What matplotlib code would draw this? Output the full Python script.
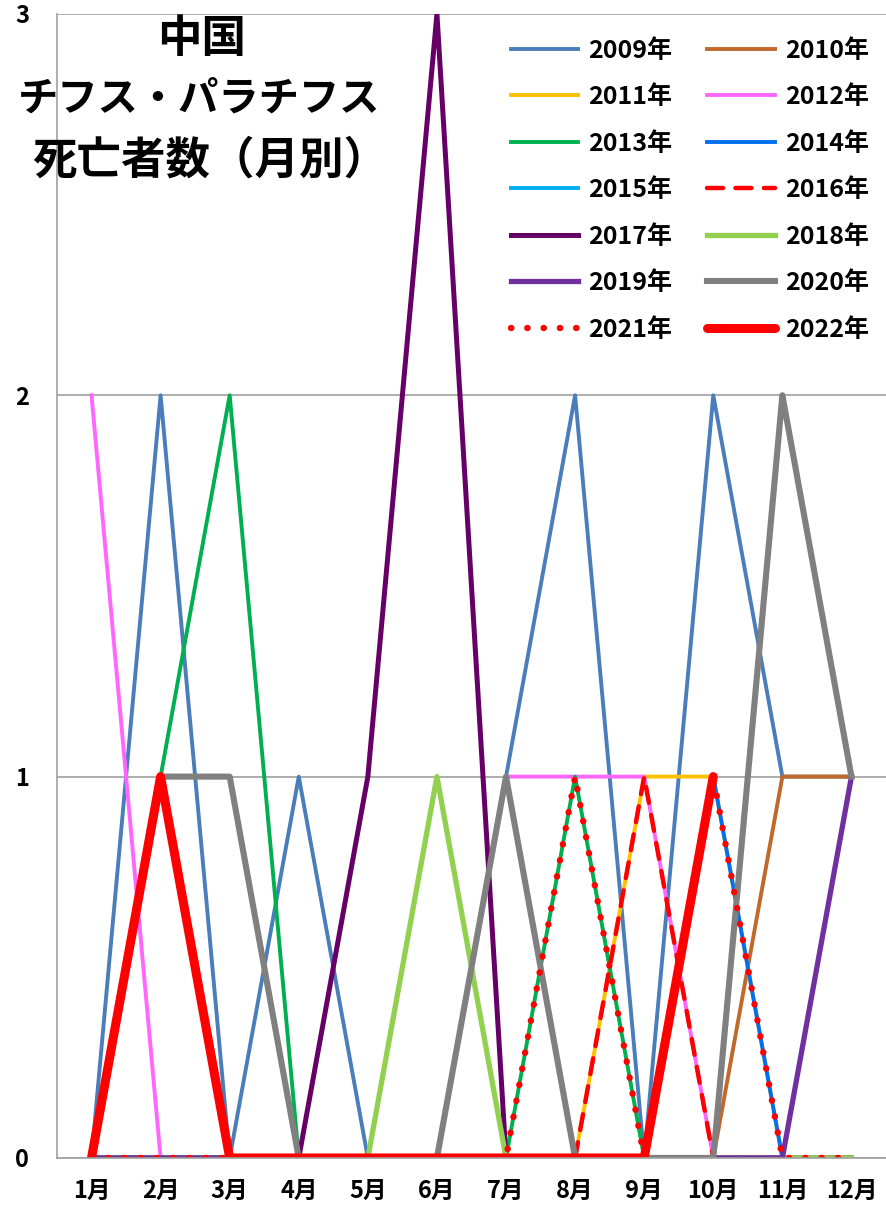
import numpy as np
import matplotlib
matplotlib.use("Agg")
import matplotlib.pyplot as plt

plt.rcParams['font.family'] = ['Noto Sans CJK JP', 'DejaVu Sans']

months = ['1月', '2月', '3月', '4月', '5月', '6月', '7月', '8月', '9月', '10月', '11月', '12月']
nan = np.nan

# deaths per month, one list per year
y2009 = [0, 2, 0, 1, 0, 0, 1, 2, 0, 2, 1, 1]
y2010 = [0, 0, 0, 0, 0, 0, 0, 0, 0, 0, 1, 1]
y2011 = [0, 0, 0, 0, 0, 0, 0, 0, 1, 1, 0, 0]
y2012 = [2, 0, 0, 0, 0, 0, 1, 1, 1, 0, 0, 0]
y2013 = [0, 1, 2, 0, 0, 0, 0, 1, 0, 0, 0, 0]
y2014 = [0, 0, 0, 0, 0, 0, 0, 0, 0, 1, 0, 0]
y2015 = [0, 0, 0, 0, 0, 0, 0, 0, 0, 0, 0, 0]
y2016 = [0, 0, 0, 0, 0, 0, 0, 0, 1, 0, 0, 0]
y2017 = [0, 0, 0, 0, 1, 3, 0, 0, 0, 0, 0, 0]
y2018 = [0, 0, 0, 0, 0, 1, 0, 0, 0, 0, 0, 0]
y2019 = [0, 0, 0, 0, 0, 0, 0, 0, 0, 0, 0, 1]
y2020 = [0, 1, 1, 0, 0, 0, 1, 0, 0, 0, 2, 1]
y2021 = [0, 0, 0, 0, 0, 0, 0, 1, 0, 1, 0, 0]
y2022 = [0, 1, 0, 0, 0, 0, 0, 0, 0, 1, nan, nan]

x = np.arange(1, 13)

fig = plt.figure(figsize=(8.86, 12.12), dpi=100)
ax = fig.add_axes([0.0643, 0.0446, 0.9357, 0.9439])

lines = []
lines += ax.plot(x, y2009, color='#4A7EBB', lw=2.8, label='2009年')
lines += ax.plot(x, y2010, color='#C0692B', lw=2.8, label='2010年')
lines += ax.plot(x, y2011, color='#FFC000', lw=2.8, label='2011年')
lines += ax.plot(x, y2012, color='#FF66FF', lw=2.8, label='2012年')
lines += ax.plot(x, y2013, color='#00B050', lw=2.8, label='2013年')
lines += ax.plot(x, y2014, color='#0070F0', lw=2.8, label='2014年')
lines += ax.plot(x, y2015, color='#00B0F0', lw=2.8, label='2015年')
lines += ax.plot(x, y2016, color='#FF0000', lw=3.2, dashes=(3.6, 2.8),
                 dash_capstyle='round', label='2016年')
lines += ax.plot(x, y2017, color='#660066', lw=3.6, label='2017年')
lines += ax.plot(x, y2018, color='#92D050', lw=3.8, label='2018年')
lines += ax.plot(x, y2019, color='#7030A0', lw=3.8, label='2019年')
lines += ax.plot(x, y2020, color='#808080', lw=4.4, label='2020年')
lines += ax.plot(x, y2021, color='#FF0000', lw=4.6, dashes=(0.05, 2.5),
                 dash_capstyle='round', label='2021年')
lines += ax.plot(x, y2022, color='#FF0000', lw=6.5, solid_capstyle='round', label='2022年')

ax.set_xlim(0.5, 12.5)
ax.set_ylim(0, 3)
ax.set_yticks([0, 1, 2, 3])
ax.set_xticks(x)
ax.set_xticklabels(months)
ax.yaxis.grid(True, color='#A0A0A0', lw=1.2)
ax.set_axisbelow(True)
ax.tick_params(length=0, labelsize=17)
ax.tick_params(axis='x', pad=15)
ax.tick_params(axis='y', pad=20)
for lab in ax.get_xticklabels() + ax.get_yticklabels():
    lab.set_fontweight('bold')
for s in ['right', 'top']:
    ax.spines[s].set_visible(False)
ax.spines['left'].set_color('#A0A0A0')
ax.spines['bottom'].set_color('#A0A0A0')
ax.spines['left'].set_linewidth(1.2)
ax.spines['bottom'].set_linewidth(1.2)

# row-major legend order for two columns
order = lines[0::2] + lines[1::2]
leg = ax.legend(handles=order, ncol=2, loc='upper left', bbox_to_anchor=(0.52, 0.998),
                frameon=False, handlelength=2.7, handletextpad=0.4,
                labelspacing=0.9, columnspacing=1.4,
                prop={'size': 18, 'weight': 'bold'})

fig.text(0.227, 0.9678, '中国', ha='center', va='center', fontsize=32, fontweight='bold')
fig.text(0.225, 0.918, 'チフス・パラチフス', ha='center', va='center', fontsize=29, fontweight='bold')
fig.text(0.2375, 0.8672, '死亡者数（月別）', ha='center', va='center', fontsize=32, fontweight='bold')

fig.savefig('out.png', dpi=100)
